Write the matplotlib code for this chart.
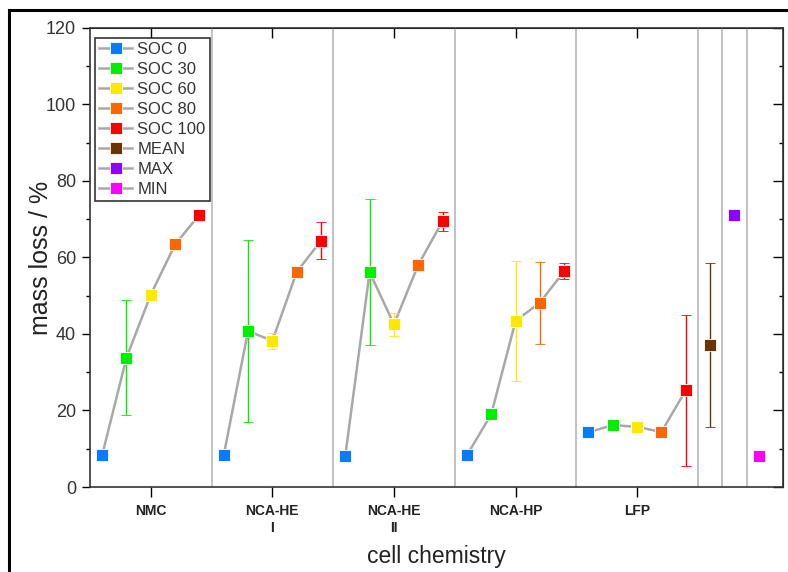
import numpy as np
import matplotlib
matplotlib.use('Agg')
import matplotlib.pyplot as plt
from matplotlib.lines import Line2D
from matplotlib.patches import Rectangle

plt.rcParams['font.family'] = ['Liberation Sans', 'DejaVu Sans']

# ── Data ──────────────────────────────────────────────────────────
groups = ["NMC", "NCA-HE\nI", "NCA-HE\nII", "NCA-HP", "LFP"]
soc_labels = ["SOC 0", "SOC 30", "SOC 60", "SOC 80", "SOC 100"]
soc_colors = ['#0a7bff', '#00ee00', '#ffe800', '#ff6600', '#ff0000']

# mass loss per SOC level, one value per cell chemistry
soc0 = [8.3, 8.3, 8.2, 8.3, 14.3]
soc30 = [33.8, 40.8, 56.2, 19.0, 16.2]
soc60 = [50.3, 38.2, 42.5, 43.4, 15.7]
soc80 = [63.4, 56.2, 58.1, 48.2, 14.4]
soc100 = [71.2, 64.4, 69.5, 56.4, 25.3]

err0 = [0, 0, 0, 0, 0]
err30 = [15.0, 23.9, 19.1, 0, 0]
err60 = [0, 2.1, 3.0, 15.8, 0]
err80 = [0, 0, 0, 10.7, 0]
err100 = [0, 4.8, 2.5, 2.1, 19.7]

stats_labels = ["MEAN", "MAX", "MIN"]
stats_colors = ['#6b3500', '#9000ff', '#ff00ff']
stats_values = [37.2, 71.1, 8.1]
stats_err = [21.4, 0, 0]

soc_vals = np.array([soc0, soc30, soc60, soc80, soc100])
soc_errs = np.array([err0, err30, err60, err80, err100])

# ── Figure ───────────────────────────────────────────────────────
fig = plt.figure(figsize=(7.88, 5.72), dpi=100)
ax = fig.add_axes([0.1142, 0.1486, 0.8795, 0.8025])

# outer frame
fig.patches.append(Rectangle((9 / 788, -0.1), 1.2, 1 - 10 / 572 + 0.1,
                             transform=fig.transFigure, fill=False,
                             edgecolor='black', linewidth=2.2))

offsets = np.array([0.1, 0.3, 0.5, 0.7, 0.9])
line_grey = '#a8a8a8'

for gi in range(len(groups)):
    xs = gi + offsets
    ax.plot(xs, soc_vals[:, gi], color=line_grey, linewidth=1.8, zorder=2)
    for si in range(len(soc_labels)):
        e = soc_errs[si, gi]
        ax.errorbar(xs[si], soc_vals[si, gi], yerr=e if e > 0 else None,
                    fmt='s', color=soc_colors[si], markersize=8.5,
                    markeredgecolor='#ffffff', markeredgewidth=0.6,
                    ecolor=soc_colors[si], elinewidth=1.0, capsize=3.5,
                    capthick=1.0, zorder=3)

stats_x = [5.1, 5.3, 5.5]
for x, v, e, c in zip(stats_x, stats_values, stats_err, stats_colors):
    ax.errorbar(x, v, yerr=e if e > 0 else None, fmt='s', color=c,
                markersize=8.5, markeredgecolor='#ffffff', markeredgewidth=0.6,
                ecolor=c, elinewidth=1.0, capsize=3.5, capthick=1.0, zorder=3)

# group separators
for xv in [1, 2, 3, 4, 5, 5.2, 5.4]:
    ax.axvline(xv, color='#bdbdbd', linewidth=1.3, zorder=1)

ax.set_xlim(0, 5.7)
ax.set_ylim(0, 120)

centers = np.arange(len(groups)) + 0.5
ax.set_xticks(centers)
ax.set_xticklabels(groups, fontsize=10, fontweight='bold', color='#222222',
                   linespacing=1.3)
ax.set_yticks(np.arange(0, 121, 20))
ax.set_yticks(np.arange(10, 120, 20), minor=True)
ax.tick_params(axis='y', which='major', direction='out', length=6, width=1,
               labelsize=13, labelcolor='#333333', pad=4)
ax.tick_params(axis='y', which='minor', direction='out', length=3, width=1)
ax.tick_params(axis='x', which='major', direction='out', length=7, width=1,
               pad=5)

secx = ax.secondary_xaxis('top')
secx.set_xticks(centers)
secx.tick_params(direction='in', length=7, width=1, labeltop=False)
secx.set_xticklabels([])

secy = ax.secondary_yaxis('right')
secy.set_yticks(np.arange(0, 121, 20))
secy.set_yticks(np.arange(10, 120, 20), minor=True)
secy.tick_params(which='major', direction='in', length=7, width=1)
secy.tick_params(which='minor', direction='in', length=3, width=1)
secy.set_yticklabels([])

for sp in ax.spines.values():
    sp.set_linewidth(1.2)
    sp.set_color('#333333')

ax.set_ylabel('mass loss / %', fontsize=18, color='#222222')
ax.set_xlabel('cell chemistry', fontsize=16.5, color='#222222')
ax.yaxis.set_label_coords(-0.071, 0.5)
ax.yaxis.label.set_va('center')
ax.xaxis.set_label_coords(0.5, -0.152)
ax.xaxis.label.set_va('center')

# legend
handles = []
for lbl, c in zip(soc_labels + stats_labels, soc_colors + stats_colors):
    handles.append(Line2D([], [], color=line_grey, linewidth=1.8, marker='s',
                          markersize=8, markerfacecolor=c,
                          markeredgecolor='#ffffff', markeredgewidth=0.6,
                          label=lbl))
leg = ax.legend(handles=handles, loc='upper left', fontsize=12,
                bbox_to_anchor=(0.007, 0.978), frameon=True, fancybox=False,
                edgecolor='black', handlelength=2.0, handletextpad=0.3,
                borderpad=0.25, labelspacing=0.3, borderaxespad=0)
leg.get_frame().set_linewidth(1.2)
for t in leg.get_texts():
    t.set_color('#333333')

plt.savefig('out.png', dpi=100)
plt.close()
